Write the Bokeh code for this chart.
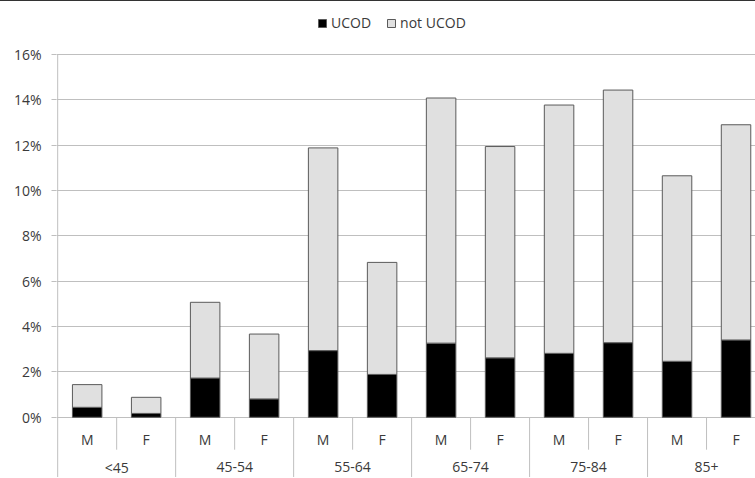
from bokeh.plotting import figure
from bokeh.models import (ColumnDataSource, Range1d, FixedTicker, NumeralTickFormatter,
                          Legend, LegendItem)
from bokeh.core.properties import value
from bokeh.embed import file_html
from bokeh.resources import INLINE

# ---- data (percent of deaths) ----
age_groups = ["<45", "45-54", "55-64", "65-74", "75-84", "85+"]
sexes = ["M", "F"]
ucod_pct = [0.44, 0.17, 1.73, 0.81, 2.94, 1.89, 3.27, 2.62, 2.82, 3.29, 2.47, 3.41]
total_pct = [1.44, 0.88, 5.07, 3.67, 11.88, 6.83, 14.08, 11.94, 13.77, 14.43, 10.65, 12.90]
y_tick_values = [0, 2, 4, 6, 8, 10, 12, 14, 16]
series_names = ["UCOD", "not UCOD"]
series_colors = ["#000000", "#e0e0e0"]

FONT = "Open Sans"
TEXT_COLOR = "#3a3a3a"
GRID_COLOR = "#bfbfbf"

n_sex = len(sexes)
xs, sex_lab, ucod, not_ucod = [], [], [], []
i = 0
for g, grp in enumerate(age_groups):
    for s, sx in enumerate(sexes):
        xs.append(g * n_sex + s + 0.5)
        sex_lab.append(sx)
        ucod.append(ucod_pct[i] / 100.0)
        not_ucod.append((total_pct[i] - ucod_pct[i]) / 100.0)
        i += 1

src = ColumnDataSource(dict(x=xs, ucod=ucod, not_ucod=not_ucod, sex=sex_lab))

Y_BOTTOM = -0.0270
Y_TOP = 0.1838
Y_TOP_AXIS = y_tick_values[-1] / 100.0

p = figure(width=755, height=477,
           x_range=Range1d(-0.02, 11.83), y_range=Range1d(Y_BOTTOM, Y_TOP - 0.00044),
           output_backend="svg", toolbar_location=None, x_axis_location=None,
           min_border_left=56, min_border_right=0, min_border_top=0, min_border_bottom=0)
p.styles = {"border-top": "1px solid #333333"}
p.outline_line_color = None
p.background_fill_color = "white"
p.border_fill_color = "white"

ticks = [t / 100.0 for t in y_tick_values]
p.xgrid.visible = False
p.ygrid.ticker = FixedTicker(ticks=ticks)
p.ygrid.grid_line_color = GRID_COLOR
p.ygrid.grid_line_width = 1

yax = p.yaxis[0]
yax.ticker = FixedTicker(ticks=ticks)
yax.formatter = NumeralTickFormatter(format="0%")
yax.axis_line_color = None
yax.major_tick_line_color = GRID_COLOR
yax.major_tick_out = 5
yax.major_tick_in = 0
yax.minor_tick_line_color = None
yax.major_label_standoff = 10
yax.major_label_text_font = FONT
yax.major_label_text_font_size = "14px"
yax.major_label_text_color = TEXT_COLOR

rs = p.vbar_stack(["ucod", "not_ucod"], x="x", width=0.5, source=src,
                  fill_color=series_colors, line_color="#5a5a5a", line_width=1)

# value axis line + category separators (Excel-style multi-level axis)
n_groups = len(age_groups)
sep_sex_x = [g * n_sex + 1 for g in range(n_groups)]
sep_grp_x = [g * n_sex for g in range(1, n_groups)]
sep_x = [0] + sep_sex_x + sep_grp_x
sep_y0 = [Y_TOP_AXIS] + [0] * (len(sep_sex_x) + len(sep_grp_x))
sep_y1 = [Y_BOTTOM] + [-0.0143] * len(sep_sex_x) + [Y_BOTTOM] * len(sep_grp_x)
p.segment(x0=sep_x, y0=sep_y0, x1=sep_x, y1=sep_y1,
          line_color=GRID_COLOR, line_width=1)

# sex labels
p.text(x="x", y=-0.0100, text="sex", source=src, text_align="center",
       text_baseline="middle", text_font=value(FONT), text_font_size="14px",
       text_color=TEXT_COLOR)
# age group labels
grp_x = [g * n_sex + n_sex / 2 for g in range(n_groups)]
p.text(x=grp_x, y=[-0.0220] * n_groups, text=age_groups, text_align="center",
       text_baseline="middle", text_font=value(FONT), text_font_size="14px",
       text_color=TEXT_COLOR)

legend = Legend(items=[LegendItem(label=series_names[k], renderers=[rs[k]]) for k in range(2)],
                orientation="horizontal", location=(261, 446),
                glyph_width=10, glyph_height=10, label_standoff=4, spacing=15,
                padding=0, margin=0, border_line_color=None, background_fill_alpha=0,
                label_text_font=FONT, label_text_font_size="14px",
                label_text_color=TEXT_COLOR, label_height=16)
p.add_layout(legend, "center")

open("out.html", "w").write(file_html(p, INLINE))
